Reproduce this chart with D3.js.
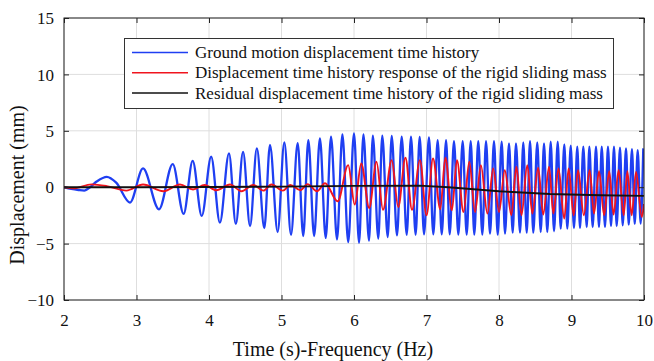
<!DOCTYPE html>
<html><head><meta charset="utf-8">
<script src="https://cdn.jsdelivr.net/npm/d3@7"></script>
<style>
html,body{margin:0;padding:0;background:#fff;}
svg{display:block;}
text{font-family:"Liberation Serif","Times New Roman",serif;fill:#111;}
</style></head>
<body>
<svg id="chart" width="654" height="361"></svg>
<script>
// ---------- data ----------
const xTicks = [2, 3, 4, 5, 6, 7, 8, 9, 10];
const yTicks = [-10, -5, 0, 5, 10, 15];
const xLabel = "Time (s)-Frequency (Hz)";
const yLabel = "Displacement (mm)";
const seriesNames = [
  "Ground motion displacement time history",
  "Displacement time history response of the rigid sliding mass",
  "Residual displacement time history of the rigid sliding mass"
];
const seriesColors = ["#1f3ff2", "#f0141e", "#111111"];

// Ground motion (blue) extrema
const groundT = [2.0,2.1,2.2,2.28,2.34,2.45,2.59,2.72,
  2.91,3.09,3.31,3.50,3.65,3.775,3.90,4.03,4.15,4.276,4.37,4.47,4.566,4.66,
  4.763,4.841,4.947,5.039,5.131,5.223,5.30,5.37,5.45,5.53,5.61,5.683,5.766,5.84,5.92,6.0,6.07,6.13,6.207,6.26,
  6.335,6.39,6.465,6.52,6.593,6.658,6.727,6.786,6.85,6.906,6.966,7.034,7.094,7.154,7.21,7.27,7.32,
  7.379,7.439,7.499,7.554,7.610,7.659,7.714,7.770,7.821,7.876,7.931,7.982,8.037,8.083,8.138,8.189,8.234,8.290,8.335,8.382,
  8.428,8.473,8.528,8.575,8.621,8.666,8.713,8.759,8.810,8.851,8.901,8.942,8.989,9.034,9.080,9.117,9.163,9.210,9.246,9.292,
  9.338,9.379,9.417,9.462,9.503,9.545,9.586,9.623,9.669,9.706,9.752,9.789,9.834,9.872,9.913,9.954,9.990];
const groundV = [0,-0.15,-0.25,-0.3,-0.1,0.5,0.92,0.4,
  -1.36,1.66,-1.96,2.05,-2.37,2.34,-2.55,2.70,-3.14,3.0,-3.26,3.14,-3.44,3.44,
  -3.62,3.74,-3.97,3.97,-4.21,3.91,-4.33,4.18,-4.33,4.33,-4.5,4.48,-4.63,4.69,-4.87,4.78,-4.92,4.69,-4.74,4.56,
  -4.56,4.56,-4.42,4.54,-4.27,4.48,-4.21,4.48,-4.21,4.45,-4.18,4.42,-4.18,4.18,-4.18,4.18,-4.18,
  4.09,-4.21,4.09,-4.21,4.09,-4.21,4.09,-4.21,4.09,-4.12,4.09,-4.21,4.03,-4.12,3.89,-4.03,3.89,-4.03,3.97,-4.03,
  4.09,-4.03,3.97,-3.97,3.89,-3.97,4.03,-3.91,4.03,-3.68,3.80,-3.68,3.68,-3.62,3.59,-3.62,3.59,-3.53,3.59,-3.53,
  3.59,-3.53,3.59,-3.53,3.59,-3.44,3.59,-3.44,3.50,-3.38,3.44,-3.32,3.38,-3.26,3.29,-3.23,3.44];

// Sliding mass response (red) extrema
const responseT = [2.0,2.13,2.38,2.59,2.86,3.09,3.37,3.6,3.78,3.94,
  4.1,4.29,4.45,4.61,4.75,4.86,5.02,5.12,5.26,5.36,
  5.49,5.6,5.775,5.92,6.01,6.1,6.21,6.31,6.40,6.52,
  6.61,6.71,6.80,6.91,7.0,7.09,7.19,7.26,7.35,7.42,
  7.51,7.59,7.67,7.75,7.84,7.92,8.0,8.08,8.17,8.24,
  8.31,8.39,8.46,8.54,8.61,8.69,8.75,8.82,8.9,8.96,
  9.03,9.09,9.17,9.25,9.31,9.38,9.45,9.52,9.58,9.65,
  9.72,9.77,9.83,9.89,9.97,10.0];
const responseV = [0,-0.1,0.25,0.1,-0.3,0.24,-0.36,0.24,-0.2,0.2,
  -0.27,0.24,-0.36,0.2,-0.3,0.24,-0.3,0.2,-0.27,0.27,
  -0.36,0.35,-1.25,1.96,-1.54,2.1,-1.84,2.25,-2.0,2.4,
  -1.75,2.61,-2.0,2.4,-2.49,2.55,-1.96,2.61,-2.05,2.4,
  -2.2,2.25,-2.2,1.96,-2.34,1.66,-2.2,1.5,-2.49,1.81,
  -2.49,1.96,-2.34,1.72,-2.43,1.81,-2.34,1.66,-2.79,1.66,
  -2.49,1.5,-2.49,1.5,-2.34,1.42,-2.49,1.42,-2.43,1.5,
  -2.49,1.42,-2.49,1.36,-2.64,-1.5];

// Residual displacement (black)
const residualT = [2, 3, 4, 5, 6, 6.9, 7.3, 8, 8.7, 9.4, 10];
const residualV = [0, 0, 0.02, 0.05, 0.12, 0.14, 0, -0.36, -0.6, -0.71, -0.77];

// ---------- layout ----------
const svg = d3.select("#chart");
const L = 64, R = 644, T = 18, B = 300;
const x = d3.scaleLinear().domain([2, 10]).range([L, R]);
const y = d3.scaleLinear().domain([-10, 15]).range([B, T]);

// grid
const g = svg.append("g");
g.selectAll("line.gx").data(xTicks).join("line")
  .attr("x1", d => x(d)).attr("x2", d => x(d)).attr("y1", T).attr("y2", B)
  .attr("stroke", "#dedede").attr("stroke-width", 1);
g.selectAll("line.gy").data(yTicks).join("line")
  .attr("y1", d => y(d)).attr("y2", d => y(d)).attr("x1", L).attr("x2", R)
  .attr("stroke", "#dedede").attr("stroke-width", 1);

// lines
svg.append("clipPath").attr("id", "clip").append("rect")
  .attr("x", L).attr("y", T).attr("width", R - L).attr("height", B - T);
const smooth = d3.line().x(d => x(d[0])).y(d => y(d[1])).curve(d3.curveMonotoneX);
const straight = d3.line().x(d => x(d[0])).y(d => y(d[1]));
const series = [
  d3.zip(groundT, groundV),
  d3.zip(responseT, responseV),
  d3.zip(residualT, residualV)
];
const widths = [2.3, 1.9, 1.9];
const lg = svg.append("g").attr("clip-path", "url(#clip)");
series.forEach((s, i) => {
  lg.append("path").datum(s).attr("d", i === 2 ? straight(s) : smooth(s))
    .attr("fill", "none").attr("stroke", seriesColors[i]).attr("stroke-width", widths[i])
    .attr("stroke-linejoin", "round");
});

// axes (ticks inward)
const fs = 17;
const ax = svg.append("g").attr("transform", `translate(0,${B})`)
  .call(d3.axisBottom(x).tickValues(xTicks).tickSizeInner(-5).tickSizeOuter(0).tickPadding(14));
const axT = svg.append("g").attr("transform", `translate(0,${T})`)
  .call(d3.axisTop(x).tickValues(xTicks).tickSizeInner(-5).tickSizeOuter(0).tickFormat(""));
const ay = svg.append("g").attr("transform", `translate(${L},0)`)
  .call(d3.axisLeft(y).tickValues(yTicks).tickSizeInner(-5).tickSizeOuter(0).tickPadding(10));
const ayR = svg.append("g").attr("transform", `translate(${R},0)`)
  .call(d3.axisRight(y).tickValues(yTicks).tickSizeInner(-5).tickSizeOuter(0).tickFormat(""));
[ax, axT, ay, ayR].forEach(a => {
  a.attr("font-family", null);
  a.select(".domain").remove();
  a.selectAll("line").attr("stroke", "#222");
  a.selectAll("text").attr("font-size", fs).attr("fill", "#111");
});
ay.selectAll("text").attr("dy", "0.34em");
svg.append("rect").attr("x", L).attr("y", T).attr("width", R - L).attr("height", B - T)
  .attr("fill", "none").attr("stroke", "#222").attr("stroke-width", 1);

// axis titles
svg.append("text").attr("x", 333).attr("y", 356).attr("text-anchor", "middle")
  .attr("font-size", 20).text(xLabel);
svg.append("text").attr("transform", "translate(24,185) rotate(-90)").attr("text-anchor", "middle")
  .attr("font-size", 20).text(yLabel);

// legend
const leg = svg.append("g");
leg.append("rect").attr("x", 124.5).attr("y", 38.5).attr("width", 489).attr("height", 70)
  .attr("fill", "#fff").attr("stroke", "#333").attr("stroke-width", 1);
seriesNames.forEach((n, i) => {
  const cy = 52.5 + i * 20.3;
  leg.append("line").attr("x1", 132).attr("x2", 188).attr("y1", cy).attr("y2", cy)
    .attr("stroke", seriesColors[i]).attr("stroke-width", 1.5);
  leg.append("text").attr("x", 195).attr("y", cy).attr("dy", "0.33em")
    .attr("font-size", 17).text(n);
});
</script>
</body></html>
